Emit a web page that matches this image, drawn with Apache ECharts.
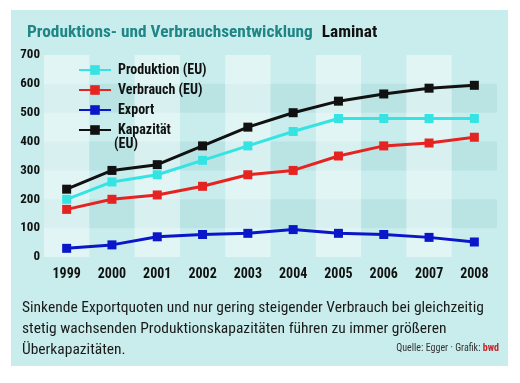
<!DOCTYPE html>
<html><head><meta charset="utf-8">
<script src="https://cdn.jsdelivr.net/npm/echarts@6/dist/echarts.min.js"></script>
<style>html,body{margin:0;padding:0;background:#fff}#c{width:520px;height:383px}</style>
</head><body><div id="c"></div>
<script>
const years = ['1999','2000','2001','2002','2003','2004','2005','2006','2007','2008'];
const produktion = [200, 260, 285, 335, 385, 435, 480, 480, 480, 480];
const verbrauch  = [165, 200, 215, 245, 285, 300, 350, 385, 395, 415];
const exportVals = [30, 42, 70, 78, 82, 95, 82, 78, 68, 52];
const kapazitaet = [235, 300, 320, 385, 450, 500, 540, 565, 585, 595];
const yTicks = [0, 100, 200, 300, 400, 500, 600, 700];

const F = '"Roboto Condensed","DejaVu Sans Condensed",sans-serif';
const chart = echarts.init(document.getElementById('c'), null, {renderer:'canvas'});
function ser(name, data, color){
  return {name, type:'line', data, symbol:'rect', symbolSize:9,
    lineStyle:{color, width:3}, itemStyle:{color}, z:3};
}
chart.setOption({
  animation:false,
  graphic:[
    {type:'rect', z:-10, shape:{x:11,y:10,width:497,height:356}, style:{fill:'#c9eded'}},
    {type:'text', left:114, top:137, z:10, style:{text:'(EU)', font:'bold 14px '+F, fill:'#111'}},
    {type:'text', left:22, top:298, style:{text:'Sinkende Exportquoten und nur gering steigender Verbrauch bei gleichzeitig\nstetig wachsenden Produktionskapazitäten führen zu immer größeren\nÜberkapazitäten.', font:'15.5px '+F, fill:'#1a1a1a', lineHeight:21}},
    {type:'text', right:21, top:343, style:{rich:{a:{fontFamily:F, fontSize:10, fill:'#333'}, b:{fontFamily:F, fontSize:10, fontWeight:'bold', fill:'#c0262a'}}, text:'{a|Quelle: Egger · Grafik: }{b|bwd}'}}
  ],
  title:{left:22, top:19, text:'{a|Produktions- und Verbrauchsentwicklung}{b|Laminat}',
    textStyle:{rich:{a:{fontFamily:F, fontWeight:'bold', fontSize:17.3, color:'#1f8585'}, b:{fontFamily:F, fontWeight:'bold', fontSize:17.3, color:'#111', padding:[0,0,0,9]}}}},
  legend:{orient:'vertical', left:73, top:58, itemWidth:32, itemHeight:12, itemGap:6,
    data:['Produktion (EU)','Verbrauch (EU)','Export','Kapazität (EU)'],
    formatter: n => n==='Kapazität (EU)' ? 'Kapazität' : n,
    textStyle:{fontWeight:'bold', fontSize:14, fontFamily:F, color:'#111', padding:[0,0,0,2]}},
  grid:{left:44, right:23, top:55, bottom:126},
  xAxis:{type:'category', data:years, boundaryGap:true,
    axisLine:{show:false}, axisTick:{show:false},
    axisLabel:{fontFamily:F, fontWeight:'bold', fontSize:14, color:'#111', margin:10},
    splitArea:{show:true, areaStyle:{color:['rgba(255,255,255,0.45)','rgba(255,255,255,0)']}},
    splitLine:{show:false}},
  yAxis:{type:'value', min:0, max:700, interval:100,
    axisLine:{show:false}, axisTick:{show:false},
    axisLabel:{fontFamily:F, fontWeight:'bold', fontSize:13, color:'#111', margin:4,
      formatter: v => yTicks.includes(v) ? String(v) : ''},
    splitLine:{show:false},
    splitArea:{show:true, areaStyle:{color:['rgba(0,0,0,0)','rgba(0,110,110,0.07)']}}},
  series:[
    ser('Produktion (EU)', produktion, '#35e3e3'),
    ser('Verbrauch (EU)', verbrauch, '#e52320'),
    ser('Export', exportVals, '#0a17c9'),
    ser('Kapazität (EU)', kapazitaet, '#111111')
  ]
});
</script></body></html>
